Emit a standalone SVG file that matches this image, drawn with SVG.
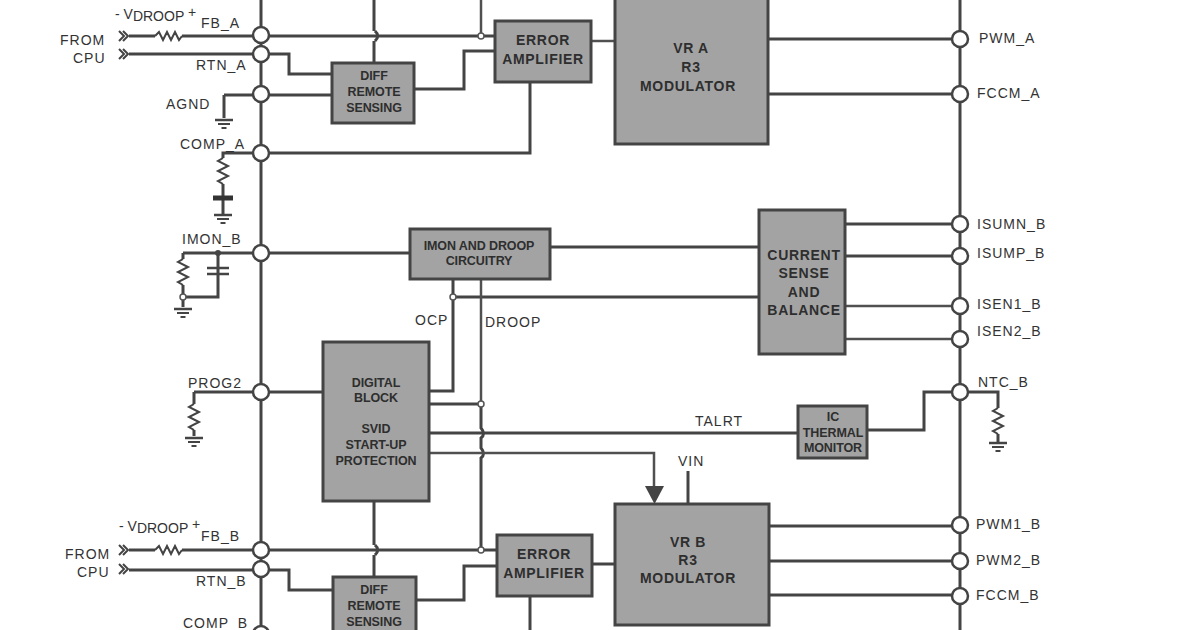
<svg xmlns="http://www.w3.org/2000/svg" width="1200" height="630" viewBox="0 0 1200 630">
<defs>
<style>
text{font-family:"Liberation Sans",Arial,sans-serif;fill:#333;font-size:14px}
.l{font-size:14px;letter-spacing:1px}
.b{font-weight:bold;font-size:14px;text-anchor:middle;fill:#2e2e2e;letter-spacing:.7px}
.c{font-size:12.500px;letter-spacing:-.1px}
.box{fill:#a3a3a3;stroke:#444;stroke-width:3}
.w{fill:none;stroke:#444;stroke-width:3}
.t{fill:none;stroke:#505050;stroke-width:2.500}
.r{fill:none;stroke:#444;stroke-width:2}
.p{fill:#fff;stroke:#444;stroke-width:2.500}
.d{fill:#fff;stroke:#555;stroke-width:1.500}
</style>
<g id="gnd"><path d="M-9 0H9" stroke="#444" stroke-width="2.500"/><path d="M-6 4H6" stroke="#444" stroke-width="2"/><path d="M-2.500 8H2.500" stroke="#444" stroke-width="2"/></g>
<path id="rv" class="r" d="M0 0L-5 3L5 8L-5 13L5 18L-5 23L0 26"/>
<path id="rh" class="r" d="M0 0L4 -4L8 4L12 -4L16 4L20 -4L24 4L27 0"/>
<path id="chev" class="r" d="M0 -5L5 0L0 5M4 -5L9 0L4 5" stroke-width="1.600"/>
</defs>
<g id="connectors">
<path class="w" d="M261 0V630M960 0V630"/>
<path class="w" d="M374 0V31M374 41V62"/>
<path class="t" d="M481 0V36"/>
<path class="w" d="M129 36H155M182 36H375Q380 36 375 41M375 31Q380 36 375 36H494"/>
<path class="w" d="M129 54H289V74H331M224 95H331"/>
<path class="w" d="M414 89H464V51H494"/>
<path class="t" d="M592 41H614"/>
<path class="w" d="M530 83V153H261"/>
<path class="w" d="M768 39H960M768 94H960"/>
<path class="w" d="M224 95V118"/>
<path class="w" d="M261 153H223V158"/>
<path class="w" d="M223 184V198M223 200V214"/>
<path d="M213 198H233" stroke="#333" stroke-width="5"/>
<path class="w" d="M183 253H409"/>
<path class="w" d="M183 253V259M183 285V297H218V253"/>
<path d="M207 268H229M207 274H229" stroke="#444" stroke-width="2.500"/>
<path class="w" d="M183 297V307"/>
<path class="w" d="M551 247H759M453 297H759"/>
<path class="w" d="M453 280V391H430"/>
<path class="t" d="M481 280V404"/>
<path class="w" d="M430 404H481"/>
<path class="w" d="M481 404V428Q486 434 481 438V448Q486 454 481 458V550"/>
<path class="w" d="M430 433H797"/>
<path class="t" d="M430 453H654V488"/>
<path d="M645 486H664L654.500 504Z" fill="#444"/>
<path class="w" d="M688 471V503"/>
<path class="w" d="M194 392H322M194 392V404M194 430V436"/>
<path class="w" d="M374 501V545M374 555V577"/>
<path class="w" d="M129 550H155M182 550H375Q380 550 375 555M375 545Q380 550 375 550H496"/>
<path class="w" d="M129 570H289V590H332"/>
<path class="w" d="M416 600H464V566H496"/>
<path class="w" d="M593 564H614"/>
<path class="w" d="M530 597V630"/>
<path class="w" d="M846 224H960M846 256H960"/>
<path class="t" d="M846 306H960M846 339H960"/>
<path class="w" d="M867 430H924V392H998V408"/>
<path class="w" d="M998 434V442"/>
<path class="w" d="M770 526H960M770 561H960M770 595H960"/>
<use href="#chev" x="119" y="36"/><use href="#chev" x="119" y="54"/>
<use href="#chev" x="119" y="550"/><use href="#chev" x="119" y="569"/>
<use href="#rh" x="155" y="36"/><use href="#rh" x="155" y="550"/>
<use href="#rv" x="223" y="158"/><use href="#rv" x="183" y="259"/><use href="#rv" x="194" y="404"/><use href="#rv" x="998" y="408"/>
<use href="#gnd" x="224" y="120"/><use href="#gnd" x="223" y="215"/><use href="#gnd" x="183" y="309"/><use href="#gnd" x="194" y="438"/><use href="#gnd" x="998" y="443"/>
<circle cx="218" cy="253" r="3" fill="#444"/><circle cx="183" cy="297" r="3" class="d"/>
<circle cx="481" cy="36" r="3" class="d"/><circle cx="453" cy="297" r="3" class="d"/><circle cx="481" cy="404" r="3" class="d"/><circle cx="481" cy="550" r="3" class="d"/>
</g>
<g id="pins">
<circle class="p" cx="261" cy="35" r="8"/><circle class="p" cx="261" cy="54" r="8"/><circle class="p" cx="261" cy="94" r="8"/><circle class="p" cx="261" cy="153" r="8"/><circle class="p" cx="261" cy="253" r="8"/><circle class="p" cx="261" cy="392" r="8"/><circle class="p" cx="261" cy="550" r="8"/><circle class="p" cx="261" cy="569" r="8"/><circle class="p" cx="261" cy="634" r="8"/>
<circle class="p" cx="960" cy="39" r="8"/><circle class="p" cx="960" cy="94" r="8"/><circle class="p" cx="960" cy="224" r="8"/><circle class="p" cx="960" cy="256" r="8"/><circle class="p" cx="960" cy="306" r="8"/><circle class="p" cx="960" cy="339" r="8"/><circle class="p" cx="960" cy="392" r="8"/><circle class="p" cx="960" cy="525" r="8"/><circle class="p" cx="960" cy="561" r="8"/><circle class="p" cx="960" cy="596" r="8"/>
</g>
<g id="vr-a"><rect class="box" x="615" y="-4" width="153" height="148"/><text class="b" x="691" y="53">VR A</text><text class="b" x="691" y="72">R3</text><text class="b" x="688" y="91">MODULATOR</text></g>
<g id="error-a"><rect class="box" x="495" y="21" width="96" height="61"/><text class="b" x="543" y="45">ERROR</text><text class="b" x="543" y="64">AMPLIFIER</text></g>
<g id="diff-a"><rect class="box" x="332" y="63" width="82" height="60"/><text class="b c" x="374" y="80">DIFF</text><text class="b c" x="374" y="96">REMOTE</text><text class="b c" x="374" y="112">SENSING</text></g>
<g id="imon"><rect class="box" x="410" y="229" width="140" height="50"/><text class="b c" x="479" y="250">IMON AND DROOP</text><text class="b c" x="479" y="265">CIRCUITRY</text></g>
<g id="current"><rect class="box" x="759" y="210" width="86" height="144"/><text class="b" x="804" y="260">CURRENT</text><text class="b" x="804" y="278">SENSE</text><text class="b" x="804" y="297">AND</text><text class="b" x="804" y="315">BALANCE</text></g>
<g id="digital"><rect class="box" x="323" y="342" width="106" height="159"/><text class="b c" x="376" y="387">DIGITAL</text><text class="b c" x="376" y="402">BLOCK</text><text class="b c" x="376" y="433">SVID</text><text class="b c" x="376" y="449">START-UP</text><text class="b c" x="376" y="465">PROTECTION</text></g>
<g id="thermal"><rect class="box" x="798" y="406" width="69" height="52"/><text class="b c" x="833" y="421">IC</text><text class="b c" x="833" y="437">THERMAL</text><text class="b c" x="833" y="452">MONITOR</text></g>
<g id="vr-b"><rect class="box" x="615" y="504" width="154" height="121"/><text class="b" x="688" y="547">VR B</text><text class="b" x="688" y="565">R3</text><text class="b" x="688" y="583">MODULATOR</text></g>
<g id="error-b"><rect class="box" x="497" y="535" width="95" height="61"/><text class="b" x="544" y="559">ERROR</text><text class="b" x="544" y="578">AMPLIFIER</text></g>
<g id="diff-b"><rect class="box" x="333" y="577" width="83" height="60"/><text class="b c" x="374" y="594">DIFF</text><text class="b c" x="374" y="610">REMOTE</text><text class="b c" x="374" y="626">SENSING</text></g>
<g id="labels">
<text class="l" x="60" y="45">FROM</text><text class="l" x="73" y="63">CPU</text>
<text x="115" y="19">- V<tspan dy="2">DROOP</tspan> <tspan dy="-4">+</tspan></text>
<text class="l" x="201" y="28">FB_A</text><text class="l" x="196" y="70">RTN_A</text><text class="l" x="166" y="109">AGND</text><text class="l" x="180" y="149">COMP_A</text><text class="l" x="182" y="244">IMON_B</text><text class="l" x="415" y="325">OCP</text><text class="l" x="485" y="327">DROOP</text><text class="l" x="188" y="388">PROG2</text><text class="l" x="695" y="426">TALRT</text><text class="l" x="678" y="466">VIN</text>
<text class="l" x="65" y="559">FROM</text><text class="l" x="77" y="577">CPU</text>
<text x="119" y="531">- V<tspan dy="2">DROOP</tspan> <tspan dy="-4">+</tspan></text>
<text class="l" x="201" y="541">FB_B</text><text class="l" x="196" y="586">RTN_B</text><text class="l" x="183" y="628">COMP_B</text>
<text class="l" x="979" y="43">PWM_A</text><text class="l" x="977" y="98">FCCM_A</text><text class="l" x="977" y="229">ISUMN_B</text><text class="l" x="977" y="258">ISUMP_B</text><text class="l" x="977" y="309">ISEN1_B</text><text class="l" x="977" y="336">ISEN2_B</text><text class="l" x="978" y="387">NTC_B</text><text class="l" x="976" y="529">PWM1_B</text><text class="l" x="976" y="565">PWM2_B</text><text class="l" x="976" y="600">FCCM_B</text>
</g>
</svg>
